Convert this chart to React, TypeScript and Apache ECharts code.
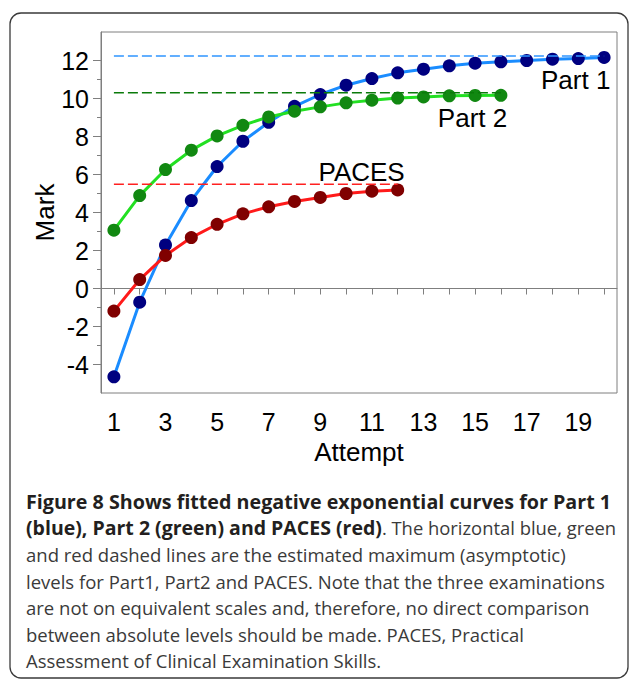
import React, { useEffect, useRef } from "react";
import * as echarts from "echarts";

// ---- data ----
const attemptsPart1 = [1, 2, 3, 4, 5, 6, 7, 8, 9, 10, 11, 12, 13, 14, 15, 16, 17, 18, 19, 20];
const marksPart1 = [-4.65, -0.72, 2.29, 4.63, 6.42, 7.75, 8.75, 9.59, 10.21, 10.7, 11.05, 11.35, 11.54, 11.72, 11.86, 11.93, 12.0, 12.07, 12.1, 12.16];
const attemptsPart2 = [1, 2, 3, 4, 5, 6, 7, 8, 9, 10, 11, 12, 13, 14, 15, 16];
const marksPart2 = [3.07, 4.89, 6.26, 7.28, 8.03, 8.59, 9.03, 9.33, 9.56, 9.77, 9.91, 10.02, 10.08, 10.14, 10.16, 10.17];
const attemptsPaces = [1, 2, 3, 4, 5, 6, 7, 8, 9, 10, 11, 12];
const marksPaces = [-1.19, 0.47, 1.74, 2.68, 3.38, 3.93, 4.3, 4.58, 4.79, 5.0, 5.12, 5.19];

const asymptoteNames = ["Part 1", "Part 2", "PACES"];
const asymptoteValues = [12.24, 10.3, 5.49];
const asymptoteStart = [1, 1, 1];
const asymptoteEnd = [20, 16, 12];

// annotation label anchor points (data coordinates)
const labelX = [18.9, 14.9, 10.6];
const labelY = [10.96, 8.96, 6.12];

const xTickValues = [1, 2, 3, 4, 5, 6, 7, 8, 9, 10, 11, 12, 13, 14, 15, 16, 17, 18, 19, 20];
const xLabelValues = [1, 3, 5, 7, 9, 11, 13, 15, 17, 19];
const yLabelValues = [-4, -2, 0, 2, 4, 6, 8, 10, 12];
const yMinorValues = [-3, -1, 1, 3, 5, 7, 9, 11];

const captionBold1 = "Figure 8 Shows fitted negative exponential curves for Part 1";
const captionBold2 = "(blue), Part 2 (green) and PACES (red)";
const captionRest2 = ". The horizontal blue, green";
const captionLines = [
  "and red dashed lines are the estimated maximum (asymptotic)",
  "levels for Part1, Part2 and PACES. Note that the three examinations",
  "are not on equivalent scales and, therefore, no direct comparison",
  "between absolute levels should be made. PACES, Practical",
  "Assessment of Clinical Examination Skills.",
];

const lineColors = ["#1a8cff", "#22e022", "#ff1a1a"];
const dotColors = ["#000080", "#118811", "#800000"];
const dashColors = ["#2f95ff", "#0a7a0a", "#ff2020"];

export default function App() {
  const ref = useRef<HTMLDivElement>(null);
  useEffect(() => {
    if (!ref.current) return;
    const chart = echarts.init(ref.current, null, { renderer: "svg" });
    const axisFont = "Liberation Sans";
    const captionFont = "'Open Sans'";

    const mainSeries = [
      { x: attemptsPart1, y: marksPart1 },
      { x: attemptsPart2, y: marksPart2 },
      { x: attemptsPaces, y: marksPaces },
    ].map((s, i) => ({
      type: "line",
      name: asymptoteNames[i],
      data: s.x.map((v, k) => [v, s.y[k]]),
      symbol: "circle",
      symbolSize: 13,
      showSymbol: true,
      lineStyle: { color: lineColors[i], width: 3 },
      itemStyle: { color: dotColors[i] },
      z: 2,
    }));

    const dashSeries = asymptoteValues.map((v, i) => ({
      type: "line",
      name: asymptoteNames[i] + " asymptote",
      data: [
        [asymptoteStart[i], v],
        [asymptoteEnd[i], v],
      ],
      symbol: "none",
      lineStyle: { color: dashColors[i], width: 1.6, type: [10, 4] },
      z: 3,
      markPoint: {
        symbol: "circle",
        symbolSize: 0,
        data: [
          {
            coord: [labelX[i], labelY[i]],
            label: {
              show: true,
              position: "inside",
              formatter: asymptoteNames[i],
              color: "#000",
              fontSize: 26,
              fontFamily: axisFont,
            },
          },
        ],
      },
    }));

    const captionGraphics: any[] = [];
    const step = 26.5;
    const fsB = 19.7;
    const fsR = 18.5;
    const top0 = 492;
    captionGraphics.push({
      type: "text",
      left: 26,
      top: top0 - 1,
      style: {
        text: captionBold1,
        font: `bold ${fsB}px ${captionFont}`,
        fill: "#231f20",
      },
    });
    captionGraphics.push({
      type: "text",
      left: 26,
      top: top0 + step - 1,
      style: {
        text: `{b|${captionBold2}}{r|${captionRest2}}`,
        rich: {
          b: { font: `bold ${fsB - 0.2}px ${captionFont}`, fill: "#231f20", color: "#231f20" },
          r: { font: `${fsR - 0.1}px ${captionFont}`, fill: "#3a3a3a", color: "#3a3a3a" },
        },
      },
    });
    captionLines.forEach((t, k) => {
      captionGraphics.push({
        type: "text",
        left: 26,
        top: top0 + step * (k + 2),
        style: { text: t, font: `${fsR}px ${captionFont}`, fill: "#3a3a3a" },
      });
    });

    const option: any = {
      animation: false,
      backgroundColor: "#ffffff",
      grid: {
        left: 101,
        top: 32,
        right: 12,
        bottom: 286,
        show: true,
        borderColor: "#7f7f7f",
        borderWidth: 1,
        containLabel: false,
      },
      xAxis: {
        type: "value",
        min: 0.5,
        max: 20.5,
        name: "Attempt",
        nameLocation: "middle",
        nameGap: 46,
        nameMoveOverlap: false,
        nameTextStyle: { fontSize: 26, fontFamily: axisFont, color: "#000" },
        axisLine: { lineStyle: { color: "#7f7f7f", width: 1 } },
        axisTick: { show: true, length: 6, customValues: xTickValues, lineStyle: { color: "#7f7f7f" } },
        axisLabel: {
          customValues: xLabelValues,
          fontSize: 25,
          fontFamily: axisFont,
          color: "#000",
          margin: 16,
        },
        splitLine: { show: false },
      },
      yAxis: [
        {
          type: "value",
          min: -5.5,
          max: 13.5,
          name: "Mark",
          nameLocation: "middle",
          nameGap: 43,
          nameMoveOverlap: false,
          nameTextStyle: { fontSize: 26, fontFamily: axisFont, color: "#000" },
          axisLine: { show: true, lineStyle: { color: "#7f7f7f", width: 1 } },
          axisTick: { show: true, length: 8, customValues: yLabelValues, lineStyle: { color: "#7f7f7f" } },
          axisLabel: {
            customValues: yLabelValues,
            fontSize: 25,
            fontFamily: axisFont,
            color: "#000",
            margin: 12,
          },
          splitLine: { show: false },
        },
        {
          type: "value",
          min: -5.5,
          max: 13.5,
          position: "left",
          axisLine: { show: false },
          axisTick: { show: true, length: 4, customValues: yMinorValues, lineStyle: { color: "#7f7f7f" } },
          axisLabel: { show: false },
          splitLine: { show: false },
        },
      ],
      series: [...mainSeries, ...dashSeries],
      graphic: [
        {
          type: "rect",
          shape: { x: 10, y: 13, width: 618, height: 665, r: 11 },
          style: { fill: "none", stroke: "#3a3a3a", lineWidth: 1.3 },
          z: -1,
        },
        ...captionGraphics,
      ],
    };
    chart.setOption(option);
    return () => chart.dispose();
  }, []);
  return (
    <div
      ref={ref}
      style={{ position: "fixed", left: 0, top: 0, width: 629, height: 679, background: "#fff" }}
    />
  );
}
